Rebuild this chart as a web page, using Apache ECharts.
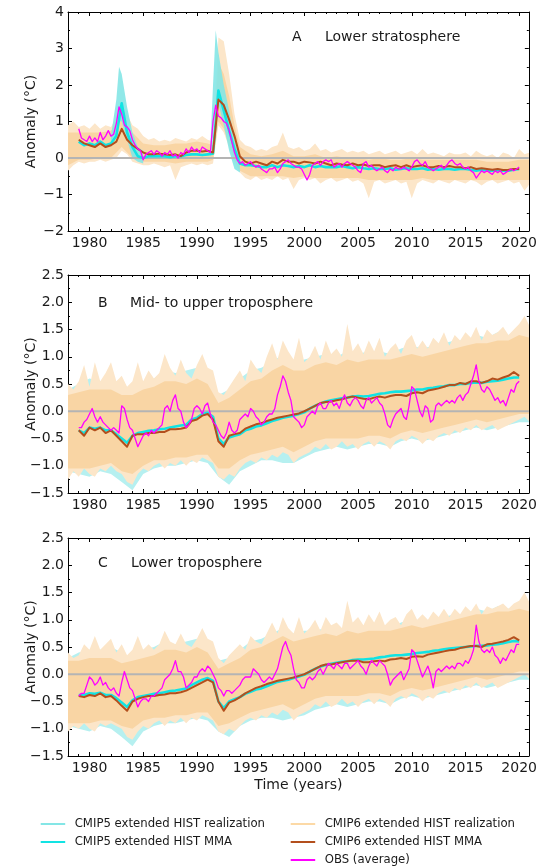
<!DOCTYPE html>
<html>
<head>
<meta charset="utf-8">
<script src="https://cdn.jsdelivr.net/npm/echarts@6/dist/echarts.min.js"></script>
<style>
  html, body { margin: 0; padding: 0; background: #fff; }
  #chart { width: 540px; height: 867px; }
</style>
</head>
<body>
<div id="chart"></div>
<script>
// ---------------------------------------------------------------
// Time sampling: quarterly observations, half-yearly model means,
// half-yearly ensemble envelopes.
// ---------------------------------------------------------------
const tQuarter = []; for (let i = 0; i <= 164; i++) tQuarter.push(1979 + i * 0.25);
const tHalf = [];    for (let i = 0; i <= 82; i++)  tHalf.push(1979 + i * 0.5);
const tBand = [];    for (let i = 0; i <= 86; i++)  tBand.push(1978 + i * 0.5);

const xTickYears = [1980, 1985, 1990, 1995, 2000, 2005, 2010, 2015, 2020];
const xMinorYears = []; for (let y = 1978; y <= 2020; y++) xMinorYears.push(y);

// ================= A: Lower stratosphere =================
// full CMIP6 realization spread (outer, spiky)
const strat_cmip6_hi = [
  0.9, 1.0,  0.85, 0.9,  0.8, 0.95,  0.8, 0.9,  0.85, 1.1,      // 1978-1982
  1.4, 1.2,  0.9, 0.8,  0.6, 0.5,  0.55, 0.45,  0.5, 0.45,      // 1983-1987
  0.55, 0.5,  0.45, 0.55,  0.5, 0.6,  0.5, 0.45,  3.3, 3.2,     // 1988-1992
  2.3, 1.2,  0.5, 0.35,  0.3, 0.2,  0.25, 0.2,  0.3, 0.35,      // 1993-1997
  0.7, 0.3,  0.25, 0.3,  0.2, 0.25,  0.4, 0.2,  0.25, 0.15,     // 1998-2002
  0.2, 0.25,  0.15, 0.2,  0.15, 0.2,  0.1, 0.15,  0.2, 0.1,     // 2003-2007
  0.15, 0.2,  0.1, 0.15,  0.2, 0.1,  0.25, 0.1,  0.15, 0.1,     // 2008-2012
  0.05, 0.15,  0.1, 0.1,  0.15, 0.05,  0.2, 0.1,  0.05, 0.1,    // 2013-2017
  0.0, 0.15,  0.1, 0.0,  0.25, 0.1,  0.15                       // 2018-2021
];
const strat_cmip6_lo = [
  -0.35, -0.2,  -0.1, -0.15,  -0.1, -0.1,  -0.05, -0.1,  -0.05, 0.0,
  0.2, 0.1,  -0.1, -0.15,  -0.2, -0.2,  -0.15, -0.2,  -0.25, -0.2,
  -0.6, -0.25,  -0.2, -0.15,  -0.2, -0.15,  -0.2, -0.15,  0.9, 0.7,
  0.3, -0.1,  -0.4, -0.55,  -0.6, -0.5,  -0.6, -0.55,  -0.6, -0.5,
  -0.6, -0.55,  -0.85, -0.6,  -0.55, -0.6,  -0.55, -0.7,  -0.6, -0.55,
  -0.65, -0.6,  -0.55, -0.65,  -0.6, -0.7,  -1.1, -0.65,  -0.6, -0.7,
  -0.65, -0.6,  -0.7, -0.65,  -1.1, -0.7,  -0.6, -0.65,  -0.7, -0.6,
  -0.65, -0.7,  -0.6, -0.65,  -0.7, -0.6,  -0.65, -0.75,  -0.65, -0.6,
  -0.7, -0.65,  -0.6, -0.7,  -0.65, -0.9,  -0.7
];
// dense core of the CMIP6 realizations: [year, low, high]
const strat_cmip6_core = [
  [1978, -0.20, 0.70], [1979, -0.05, 0.70], [1980, -0.05, 0.70], [1981, 0.00, 0.70],
  [1982, 0.00, 0.75], [1983, 0.30, 1.10], [1984, 0.00, 0.70], [1985, -0.10, 0.40],
  [1986, -0.10, 0.35], [1987, -0.10, 0.35], [1988, -0.15, 0.40], [1989, -0.10, 0.40],
  [1990, -0.10, 0.45], [1991, -0.10, 0.40], [1991.5, -0.05, 0.35], [1992, 1.00, 2.60],
  [1992.5, 0.80, 2.30], [1993, 0.35, 1.70], [1993.5, -0.05, 0.90], [1994, -0.35, 0.30],
  [1995, -0.50, 0.10], [1996, -0.50, 0.05], [1997, -0.50, 0.10], [1998, -0.50, 0.20],
  [1999, -0.55, 0.05], [2000, -0.50, 0.05], [2001, -0.55, 0.10], [2002, -0.55, 0.00],
  [2003, -0.55, 0.05], [2004, -0.55, 0.00], [2005, -0.55, 0.00], [2006, -0.60, -0.05],
  [2007, -0.60, 0.00], [2008, -0.60, -0.05], [2009, -0.60, -0.05], [2010, -0.60, 0.00],
  [2011, -0.55, -0.05], [2012, -0.60, -0.05], [2013, -0.60, -0.05], [2014, -0.60, -0.05],
  [2015, -0.60, -0.05], [2016, -0.60, -0.05], [2017, -0.60, -0.10], [2018, -0.60, -0.10],
  [2019, -0.60, -0.10], [2020, -0.60, -0.05], [2021, -0.60, -0.05]
];
// CMIP5 realization spread around the two volcanic warm peaks: [year, low, high]
const strat_cmip5_band1 = [
  [1982.0, 0.3, 0.6], [1982.5, 0.6, 1.6], [1982.75, 1.0, 2.5], [1983.0, 1.0, 2.3],
  [1983.5, 0.5, 1.4], [1984.0, 0.0, 0.7], [1984.5, -0.1, 0.3], [1985.0, -0.15, 0.2]
];
const strat_cmip5_band2 = [
  [1991.25, 0.0, 0.3], [1991.5, 0.6, 2.0], [1991.75, 1.5, 3.5], [1992.0, 1.5, 2.9],
  [1992.5, 0.9, 2.0], [1993.0, 0.2, 1.3], [1993.5, -0.3, 0.5], [1994.0, -0.4, 0.0]
];
const strat_cmip5_mma = [
  0.45, 0.35,  0.40, 0.35,  0.45, 0.35,  0.40, 0.60,  1.50, 0.70,   // 1979-1983
  0.30, 0.05,  0.00, 0.05,  0.05, 0.05,  0.05, 0.02,  0.05, 0.05,   // 1984-1988
  0.08, 0.10,  0.10, 0.08,  0.10, 0.12,  1.85, 1.30,  0.75, 0.25,   // 1989-1993
  -0.15, -0.20,  -0.20, -0.22,  -0.25, -0.25,  -0.20, -0.25,  -0.20, -0.22,
  -0.25, -0.22,  -0.25, -0.20,  -0.25, -0.22,  -0.25, -0.25,  -0.25, -0.22,
  -0.25, -0.28,  -0.25, -0.28,  -0.30, -0.28,  -0.30, -0.30,  -0.28, -0.32,
  -0.30, -0.28,  -0.30, -0.30,  -0.28, -0.32,  -0.30, -0.32,  -0.30, -0.30,
  -0.32, -0.30,  -0.30, -0.32,  -0.35, -0.32,  -0.35, -0.35,  -0.33, -0.35,
  -0.35, -0.32,  -0.30
];
const strat_cmip6_mma = [
  0.50, 0.40,  0.35, 0.30,  0.40, 0.30,  0.35, 0.45,  0.80, 0.50,
  0.35, 0.25,  0.15, 0.10,  0.10, 0.12,  0.10, 0.08,  0.10, 0.05,
  0.15, 0.20,  0.20, 0.18,  0.20, 0.15,  1.60, 1.45,  1.05, 0.60,
  0.05, -0.10,  -0.15, -0.10,  -0.15, -0.20,  -0.10, -0.15,  -0.05, -0.10,
  -0.10, -0.15,  -0.10, -0.12,  -0.15, -0.10,  -0.15, -0.20,  -0.15, -0.18,
  -0.20, -0.15,  -0.20, -0.18,  -0.22, -0.20,  -0.20, -0.25,  -0.22, -0.20,
  -0.25, -0.20,  -0.25, -0.22,  -0.20, -0.25,  -0.25, -0.22,  -0.25, -0.22,
  -0.25, -0.25,  -0.28, -0.25,  -0.30, -0.28,  -0.30, -0.32,  -0.30, -0.33,
  -0.32, -0.30,  -0.30
];
const strat_obs = [
  0.80, 0.55, 0.50, 0.45,   0.60, 0.45, 0.55, 0.45,   0.70, 0.50, 0.60, 0.75,   // 1979-1981
  0.60, 0.65, 0.95, 1.40,   1.20, 0.90, 0.85, 0.75,   0.50, 0.35, 0.25, 0.20,   // 1982-1984
  -0.05, 0.10, 0.15, 0.20,  0.10, 0.20, 0.15, 0.05,   0.15, 0.10, 0.20, 0.05,   // 1985-1987
  0.10, 0.00, 0.15, 0.10,   0.25, 0.15, 0.30, 0.20,   0.25, 0.15, 0.30, 0.25,   // 1988-1990
  0.20, 0.15, 1.00, 1.45,   1.15, 1.10, 1.00, 0.95,   0.75, 0.45, 0.15, -0.05,  // 1991-1993
  -0.15, -0.10, -0.20, -0.15,  -0.10, -0.20, -0.25, -0.20,  -0.30, -0.35, -0.40, -0.30,
  -0.30, -0.25, -0.40, -0.30,  -0.15, -0.10, -0.05, -0.15,  -0.20, -0.25, -0.25, -0.30,
  -0.45, -0.60, -0.45, -0.20,  -0.15, -0.10, -0.20, -0.10,  -0.05, -0.10, -0.05, -0.25,
  -0.20, -0.15, -0.25, -0.15,  -0.10, -0.15, -0.20, -0.25,  -0.35, -0.40, -0.15, -0.10,
  -0.25, -0.20, -0.30, -0.35,  -0.30, -0.25, -0.35, -0.40,  -0.30, -0.35, -0.25, -0.30,
  -0.30, -0.25, -0.30, -0.35,  -0.25, -0.10, -0.05, -0.15,  -0.20, -0.10, -0.25, -0.30,
  -0.35, -0.30, -0.25, -0.20,  -0.30, -0.20, -0.10, -0.05,  -0.15, -0.20, -0.15, -0.25,
  -0.30, -0.25, -0.35, -0.40,  -0.55, -0.45, -0.35, -0.40,  -0.35, -0.40, -0.45, -0.35,
  -0.40, -0.35, -0.45, -0.40,  -0.35, -0.30, -0.35, -0.30,
  -0.25
];

// ================= B: Mid- to upper troposphere =================
const tmt_cmip6_hi = [
  0.50, 0.40,  0.55, 0.85,  0.45, 0.90,  0.55, 0.70,  0.90, 0.55,   // 1978-1982
  0.65, 0.45,  0.55, 0.90,  0.55, 0.75,  0.60, 0.70,  1.05, 0.80,   // 1983-1987
  0.65, 0.95,  0.70, 0.60,  0.85, 1.05,  0.80, 0.75,  0.35, 0.30,   // 1988-1992
  0.45, 0.60,  0.75, 0.55,  0.95, 0.80,  0.70, 1.00,  1.25, 0.95,   // 1993-1997
  1.30, 1.10,  0.95, 1.35,  0.90, 1.00,  1.20, 0.95,  1.30, 1.05,   // 1998-2002
  1.15, 1.00,  1.60, 1.10,  1.25, 1.05,  1.30, 1.10,  1.35, 1.00,   // 2003-2007
  1.15, 1.25,  1.05, 1.30,  1.40, 1.15,  1.30, 1.15,  1.35, 1.25,   // 2008-2012
  1.45, 1.20,  1.40, 1.30,  1.45, 1.35,  1.55, 1.30,  1.50, 1.40,   // 2013-2017
  1.45, 1.55,  1.40, 1.50,  1.60, 1.75,  1.55                       // 2018-2021
];
const tmt_cmip6_lo = [
  -1.25, -1.10,  -1.20, -1.05,  -1.15, -1.20,  -1.05, -1.10,  -1.00, -1.10,
  -1.15, -1.30,  -1.35, -1.15,  -1.05, -1.10,  -1.00, -0.95,  -1.05, -0.95,
  -1.00, -0.90,  -1.00, -0.90,  -0.95, -0.85,  -0.90, -0.95,  -1.20, -1.25,
  -1.15, -1.20,  -1.05, -0.95,  -0.90, -0.95,  -0.85, -0.90,  -0.80, -0.85,
  -0.75, -0.80,  -0.95, -0.85,  -0.80, -0.75,  -0.65, -0.70,  -0.60, -0.70,
  -0.65, -0.55,  -0.65, -0.60,  -0.70, -0.60,  -0.55, -0.65,  -0.55, -0.60,
  -0.70, -0.55,  -0.50, -0.55,  -0.45, -0.50,  -0.60, -0.50,  -0.55, -0.45,
  -0.40, -0.45,  -0.35, -0.40,  -0.30, -0.35,  -0.25, -0.35,  -0.30, -0.25,
  -0.35, -0.30,  -0.25, -0.20,  -0.15, -0.10,  -0.20
];
const tmt_cmip6_core = [
  [1978, -1.05, 0.30], [1979, -1.05, 0.35], [1980, -1.05, 0.40], [1981, -1.00, 0.40],
  [1982, -0.95, 0.40], [1983, -1.10, 0.30], [1984, -1.15, 0.30], [1985, -1.00, 0.40],
  [1986, -0.90, 0.45], [1987, -0.90, 0.55], [1988, -0.85, 0.55], [1989, -0.85, 0.50],
  [1990, -0.80, 0.60], [1991, -0.80, 0.50], [1992, -1.05, 0.15], [1993, -1.05, 0.25],
  [1994, -0.90, 0.40], [1995, -0.80, 0.55], [1996, -0.75, 0.60], [1997, -0.70, 0.75],
  [1998, -0.65, 0.85], [1999, -0.75, 0.75], [2000, -0.65, 0.75], [2001, -0.55, 0.85],
  [2002, -0.50, 0.90], [2003, -0.50, 0.85], [2004, -0.50, 0.95], [2005, -0.50, 0.90],
  [2006, -0.45, 0.95], [2007, -0.45, 0.95], [2008, -0.50, 0.95], [2009, -0.40, 1.00],
  [2010, -0.35, 1.05], [2011, -0.40, 1.00], [2012, -0.35, 1.05], [2013, -0.30, 1.10],
  [2014, -0.25, 1.15], [2015, -0.20, 1.20], [2016, -0.15, 1.25], [2017, -0.20, 1.25],
  [2018, -0.15, 1.30], [2019, -0.10, 1.30], [2020, -0.05, 1.40], [2021, -0.05, 1.35]
];
const tmt_cmip5_band = [
  [1978, -1.10, 0.40], [1979, -1.15, 0.50], [1980, -1.20, 0.60], [1981, -1.10, 0.55],
  [1982, -1.15, 0.60], [1983, -1.30, 0.50], [1984, -1.45, 0.40], [1985, -1.15, 0.55],
  [1986, -1.05, 0.60], [1987, -1.00, 0.75], [1988, -1.00, 0.70], [1989, -0.95, 0.75],
  [1990, -0.90, 0.80], [1991, -0.95, 0.70], [1992, -1.20, 0.30], [1993, -1.35, 0.40],
  [1994, -1.10, 0.60], [1995, -1.00, 0.75], [1996, -0.90, 0.80], [1997, -0.90, 0.90],
  [1998, -0.95, 1.05], [1999, -0.95, 0.90], [2000, -0.85, 0.95], [2001, -0.75, 1.00],
  [2002, -0.70, 1.05], [2003, -0.65, 1.00], [2004, -0.70, 1.10], [2005, -0.65, 1.05],
  [2006, -0.60, 1.10], [2007, -0.60, 1.10], [2008, -0.65, 1.05], [2009, -0.55, 1.15],
  [2010, -0.50, 1.20], [2011, -0.55, 1.15], [2012, -0.50, 1.20], [2013, -0.45, 1.25],
  [2014, -0.40, 1.30], [2015, -0.35, 1.30], [2016, -0.30, 1.40], [2017, -0.35, 1.35],
  [2018, -0.30, 1.45], [2019, -0.25, 1.40], [2020, -0.20, 1.50], [2021, -0.20, 1.45]
];
const tmt_cmip5_mma = [
  -0.35, -0.40,  -0.30, -0.32,  -0.30, -0.35,  -0.35, -0.42,  -0.50, -0.58,
  -0.45, -0.40,  -0.38, -0.36,  -0.35, -0.33,  -0.32, -0.30,  -0.28, -0.26,
  -0.25, -0.15,  -0.12, -0.05,  -0.03, -0.10,  -0.50, -0.60,  -0.48, -0.45,
  -0.42, -0.35,  -0.32, -0.28,  -0.26, -0.22,  -0.18, -0.15,  -0.12, -0.10,
  -0.08, -0.05,  -0.02, 0.05,  0.10, 0.14,  0.18, 0.20,  0.22, 0.24,
  0.25, 0.27,  0.28, 0.27,  0.28, 0.30,  0.32, 0.33,  0.35, 0.36,
  0.36, 0.37,  0.38, 0.40,  0.40, 0.42,  0.43, 0.45,  0.46, 0.48,
  0.48, 0.50,  0.50, 0.52,  0.53, 0.52,  0.54, 0.55,  0.56, 0.58,
  0.60, 0.62,  0.62
];
const tmt_cmip6_mma = [
  -0.35, -0.45,  -0.30, -0.35,  -0.30, -0.40,  -0.35, -0.45,  -0.55, -0.65,
  -0.45, -0.42,  -0.42, -0.40,  -0.40, -0.38,  -0.38, -0.33,  -0.33, -0.32,
  -0.30, -0.18,  -0.15, -0.08,  -0.05, -0.15,  -0.55, -0.65,  -0.45, -0.42,
  -0.40, -0.32,  -0.28, -0.24,  -0.22, -0.18,  -0.15, -0.12,  -0.10, -0.08,
  -0.06, -0.04,  0.00, 0.05,  0.10, 0.15,  0.17, 0.18,  0.20, 0.22,
  0.25, 0.27,  0.25, 0.23,  0.22, 0.25,  0.27, 0.25,  0.28, 0.30,
  0.30, 0.28,  0.33, 0.35,  0.33, 0.38,  0.40, 0.42,  0.45, 0.48,
  0.48, 0.52,  0.50, 0.55,  0.55, 0.52,  0.55, 0.60,  0.58, 0.62,
  0.65, 0.72,  0.65
];
const tmt_obs = [
  -0.30, -0.30, -0.20, -0.15,  -0.05, 0.05, -0.10, -0.20,  -0.10, -0.20, -0.25, -0.30,  // 1979-1981
  -0.35, -0.30, -0.35, -0.40,  0.10, 0.05, -0.15, -0.30,   -0.35, -0.50, -0.65, -0.55,  // 1982-1984
  -0.45, -0.40, -0.45, -0.35,  -0.40, -0.35, -0.30, -0.25,  0.05, 0.10, 0.00, 0.20,    // 1985-1987
  0.30, 0.05, 0.00, -0.20,     -0.30, -0.25, -0.15, 0.05,   0.10, 0.05, -0.05, 0.10,   // 1988-1990
  0.15, -0.05, -0.20, -0.25,   -0.35, -0.45, -0.50, -0.40,  -0.20, -0.35, -0.40, -0.35, // 1991-1993
  -0.15, -0.10, -0.05, -0.10,  0.05, 0.00, -0.10, -0.15,   -0.25, -0.20, -0.10, -0.05, // 1994-1996
  -0.05, 0.05, 0.30, 0.45,     0.65, 0.55, 0.35, 0.20,     -0.10, -0.15, -0.20, -0.30, // 1997-1999
  -0.25, -0.10, -0.05, 0.00,   -0.05, 0.10, 0.15, 0.05,    0.05, 0.15, 0.20, 0.10,     // 2000-2002
  0.15, 0.05, 0.20, 0.30,      0.15, 0.10, 0.20, 0.25,     0.20, 0.10, 0.05, 0.20,     // 2003-2005
  0.25, 0.15, 0.20, 0.25,      0.15, 0.10, -0.05, -0.25,   -0.30, -0.15, -0.05, 0.00,  // 2006-2008
  0.05, -0.10, -0.15, 0.10,    0.45, 0.40, 0.20, 0.00,     -0.10, 0.10, 0.05, -0.20,   // 2009-2011
  -0.15, 0.10, 0.15, 0.10,     0.15, 0.20, 0.15, 0.20,     0.15, 0.25, 0.30, 0.20,     // 2012-2014
  0.30, 0.35, 0.50, 0.65,      0.85, 0.55, 0.40, 0.35,     0.45, 0.40, 0.30, 0.20,     // 2015-2017
  0.25, 0.15, 0.20, 0.10,      0.25, 0.40, 0.35, 0.50,                                 // 2018-2019
  0.55
];

// ================= C: Lower troposphere =================
const tlt_cmip6_hi = [
  0.40, 0.30,  0.35, 0.55,  0.45, 0.70,  0.45, 0.55,  0.65, 0.40,
  0.55, 0.35,  0.45, 0.70,  0.45, 0.55,  0.45, 0.55,  0.80, 0.60,
  0.55, 0.75,  0.55, 0.50,  0.65, 0.85,  0.65, 0.60,  0.30, 0.20,
  0.35, 0.45,  0.55, 0.45,  0.70, 0.60,  0.55, 0.75,  0.95, 0.75,
  1.05, 0.85,  0.75, 1.05,  0.75, 0.85,  1.00, 0.80,  1.05, 0.90,
  0.95, 0.85,  1.35, 0.95,  1.05, 0.90,  1.10, 0.95,  1.15, 0.90,
  1.00, 1.05,  0.90, 1.10,  1.20, 1.00,  1.10, 1.00,  1.15, 1.05,
  1.20, 1.05,  1.20, 1.10,  1.25, 1.15,  1.30, 1.10,  1.25, 1.20,
  1.25, 1.30,  1.20, 1.30,  1.35, 1.50,  1.30
];
const tlt_cmip6_lo = [
  -1.05, -0.95,  -1.00, -0.90,  -1.00, -1.05,  -0.90, -0.95,  -0.90, -0.95,
  -1.00, -1.15,  -1.20, -1.05,  -0.95, -1.00,  -0.90, -0.85,  -0.95, -0.85,
  -0.90, -0.80,  -0.90, -0.80,  -0.85, -0.75,  -0.80, -0.85,  -1.05, -1.10,
  -1.00, -1.05,  -0.95, -0.85,  -0.80, -0.85,  -0.75, -0.80,  -0.70, -0.75,
  -0.65, -0.70,  -0.85, -0.75,  -0.70, -0.65,  -0.55, -0.60,  -0.50, -0.60,
  -0.55, -0.45,  -0.55, -0.50,  -0.60, -0.50,  -0.45, -0.55,  -0.45, -0.50,
  -0.60, -0.45,  -0.40, -0.45,  -0.35, -0.40,  -0.50, -0.40,  -0.45, -0.35,
  -0.30, -0.35,  -0.25, -0.30,  -0.20, -0.25,  -0.15, -0.25,  -0.20, -0.15,
  -0.25, -0.20,  -0.15, -0.10,  -0.05, 0.00,  -0.10
];
const tlt_cmip6_core = [
  [1978, -0.90, 0.25], [1979, -0.90, 0.25], [1980, -0.90, 0.30], [1981, -0.85, 0.30],
  [1982, -0.85, 0.30], [1983, -0.95, 0.20], [1984, -1.00, 0.25], [1985, -0.85, 0.30],
  [1986, -0.80, 0.35], [1987, -0.80, 0.45], [1988, -0.75, 0.45], [1989, -0.75, 0.40],
  [1990, -0.70, 0.50], [1991, -0.70, 0.40], [1992, -0.95, 0.10], [1993, -0.90, 0.20],
  [1994, -0.80, 0.30], [1995, -0.70, 0.45], [1996, -0.65, 0.50], [1997, -0.60, 0.60],
  [1998, -0.55, 0.70], [1999, -0.65, 0.60], [2000, -0.55, 0.65], [2001, -0.45, 0.70],
  [2002, -0.40, 0.75], [2003, -0.40, 0.70], [2004, -0.40, 0.80], [2005, -0.40, 0.75],
  [2006, -0.35, 0.80], [2007, -0.35, 0.80], [2008, -0.40, 0.80], [2009, -0.30, 0.85],
  [2010, -0.25, 0.90], [2011, -0.30, 0.85], [2012, -0.25, 0.90], [2013, -0.20, 0.95],
  [2014, -0.15, 1.00], [2015, -0.10, 1.05], [2016, -0.05, 1.10], [2017, -0.10, 1.10],
  [2018, -0.05, 1.15], [2019, 0.00, 1.15], [2020, 0.05, 1.20], [2021, 0.05, 1.15]
];
const tlt_cmip5_band = [
  [1978, -0.95, 0.30], [1979, -1.00, 0.40], [1980, -1.05, 0.45], [1981, -0.95, 0.45],
  [1982, -1.00, 0.50], [1983, -1.15, 0.40], [1984, -1.32, 0.30], [1985, -1.05, 0.45],
  [1986, -0.95, 0.50], [1987, -0.90, 0.60], [1988, -0.90, 0.55], [1989, -0.85, 0.60],
  [1990, -0.80, 0.65], [1991, -0.85, 0.55], [1992, -1.05, 0.25], [1993, -1.15, 0.30],
  [1994, -0.95, 0.45], [1995, -0.85, 0.60], [1996, -0.80, 0.65], [1997, -0.80, 0.75],
  [1998, -0.85, 0.85], [1999, -0.80, 0.75], [2000, -0.75, 0.80], [2001, -0.65, 0.80],
  [2002, -0.60, 0.85], [2003, -0.55, 0.80], [2004, -0.60, 0.90], [2005, -0.55, 0.85],
  [2006, -0.50, 0.90], [2007, -0.50, 0.90], [2008, -0.55, 0.85], [2009, -0.45, 0.95],
  [2010, -0.40, 1.00], [2011, -0.45, 0.95], [2012, -0.40, 1.00], [2013, -0.35, 1.05],
  [2014, -0.30, 1.10], [2015, -0.25, 1.10], [2016, -0.20, 1.20], [2017, -0.25, 1.15],
  [2018, -0.20, 1.25], [2019, -0.15, 1.20], [2020, -0.10, 1.30], [2021, -0.10, 1.25]
];
const tlt_cmip5_mma = [
  -0.38, -0.38,  -0.35, -0.36,  -0.34, -0.38,  -0.38, -0.44,  -0.52, -0.60,
  -0.48, -0.42,  -0.40, -0.38,  -0.36, -0.35,  -0.33, -0.31,  -0.30, -0.28,
  -0.26, -0.20,  -0.15, -0.10,  -0.07, -0.12,  -0.50, -0.62,  -0.50, -0.46,
  -0.42, -0.36,  -0.32, -0.28,  -0.26, -0.22,  -0.18, -0.14,  -0.12, -0.10,
  -0.07, -0.04,  -0.01, 0.05,  0.10, 0.14,  0.17, 0.19,  0.21, 0.23,
  0.24, 0.26,  0.27, 0.27,  0.28, 0.29,  0.31, 0.32,  0.34, 0.35,
  0.35, 0.36,  0.37, 0.39,  0.40, 0.41,  0.43, 0.44,  0.46, 0.47,
  0.48, 0.49,  0.50, 0.51,  0.52, 0.52,  0.53, 0.54,  0.55, 0.57,
  0.59, 0.61,  0.60
];
const tlt_cmip6_mma = [
  -0.40, -0.42,  -0.38, -0.40,  -0.35, -0.42,  -0.40, -0.48,  -0.58, -0.67,
  -0.50, -0.45,  -0.42, -0.40,  -0.40, -0.38,  -0.37, -0.35,  -0.35, -0.33,
  -0.30, -0.25,  -0.20, -0.15,  -0.10, -0.15,  -0.50, -0.67,  -0.52, -0.48,
  -0.42, -0.35,  -0.30, -0.25,  -0.22, -0.18,  -0.15, -0.12,  -0.10, -0.08,
  -0.06, -0.03,  0.00, 0.05,  0.10, 0.15,  0.18, 0.18,  0.20, 0.22,
  0.24, 0.25,  0.25, 0.22,  0.22, 0.24,  0.25, 0.24,  0.27, 0.28,
  0.30, 0.28,  0.32, 0.33,  0.32, 0.36,  0.38, 0.40,  0.42, 0.44,
  0.45, 0.48,  0.50, 0.52,  0.52, 0.50,  0.55, 0.56,  0.58, 0.60,
  0.63, 0.68,  0.62
];
const tlt_obs = [
  -0.40, -0.35, -0.35, -0.20,  -0.05, -0.10, -0.20, -0.15,  -0.05, -0.20, -0.15, -0.25,  // 1979-1981
  -0.30, -0.25, -0.35, -0.40,  -0.15, 0.05, -0.10, -0.25,   -0.30, -0.45, -0.60, -0.50,  // 1982-1984
  -0.45, -0.45, -0.50, -0.40,  -0.40, -0.35, -0.30, -0.25,  -0.10, -0.05, 0.00, 0.10,   // 1985-1987
  0.25, 0.05, 0.05, -0.05,     -0.25, -0.20, -0.15, -0.05,  -0.05, 0.05, 0.10, 0.05,    // 1988-1990
  0.15, 0.10, 0.00, -0.10,     -0.25, -0.30, -0.40, -0.30,  -0.30, -0.35, -0.30, -0.25, // 1991-1993
  -0.20, -0.10, -0.05, -0.05,  -0.05, 0.10, 0.05, 0.00,     -0.10, -0.15, -0.10, -0.05, // 1994-1996
  -0.10, 0.00, 0.10, 0.30,     0.50, 0.60, 0.45, 0.35,      0.10, -0.10, -0.15, -0.25,  // 1997-1999
  -0.25, -0.10, -0.05, -0.10,  -0.05, 0.05, 0.10, 0.00,     0.10, 0.20, 0.15, 0.10,     // 2000-2002
  0.20, 0.15, 0.10, 0.20,      0.20, 0.10, 0.15, 0.20,      0.25, 0.15, 0.10, 0.00,     // 2003-2005
  0.15, 0.25, 0.20, 0.15,      0.25, 0.20, 0.15, 0.00,      -0.20, -0.10, -0.05, 0.00,  // 2006-2008
  0.05, -0.10, 0.00, 0.10,     0.45, 0.40, 0.25, 0.10,      -0.05, 0.05, 0.15, 0.00,    // 2009-2011
  -0.25, 0.05, 0.10, 0.05,     0.10, 0.15, 0.10, 0.15,      0.10, 0.20, 0.20, 0.15,     // 2012-2014
  0.25, 0.20, 0.30, 0.45,      0.90, 0.60, 0.45, 0.40,      0.45, 0.40, 0.50, 0.35,     // 2015-2017
  0.30, 0.20, 0.30, 0.25,      0.35, 0.45, 0.40, 0.55,                                  // 2018-2019
  0.55
];

// ---------------------------------------------------------------
const FONT = 'DejaVu Sans';
const C = {
  cmip5Real: '#84e6e6',
  cmip5Faint: '#b6f0f0',
  cmip5Mma:  '#12e3e3',
  cmip6Outer: '#fce6c9',
  cmip6Core: '#f9d5a4',
  cmip6Legend: '#fcd9a6',
  cmip6Mma:  '#b34f1d',
  obs:       '#ff00ff',
  zero:      '#b4b4b4',
  axis:      '#000000',
  text:      '#1a1a1a'
};

const panels = [
  {
    top: 12, height: 219, min: -2, max: 4, step: 1, dec: 0,
    letter: 'A', title: 'Lower stratosphere', letterX: 292, titleX: 325, titleY: 37,
    cmip6Band: tBand.map((t, i) => [t, strat_cmip6_lo[i], strat_cmip6_hi[i]]),
    cmip6Core: strat_cmip6_core,
    cmip5Bands: [strat_cmip5_band1, strat_cmip5_band2], cmip5OnTop: true,
    cmip5Mma: strat_cmip5_mma, cmip6Mma: strat_cmip6_mma, obs: strat_obs
  },
  {
    top: 275, height: 218, min: -1.5, max: 2.5, step: 0.5, dec: 1,
    letter: 'B', title: 'Mid- to upper troposphere', letterX: 98, titleX: 130, titleY: 303,
    cmip6Band: tBand.map((t, i) => [t, tmt_cmip6_lo[i], tmt_cmip6_hi[i]]),
    cmip6Core: tmt_cmip6_core,
    cmip5Bands: [tmt_cmip5_band], cmip5OnTop: false,
    cmip5Mma: tmt_cmip5_mma, cmip6Mma: tmt_cmip6_mma, obs: tmt_obs
  },
  {
    top: 538, height: 218, min: -1.5, max: 2.5, step: 0.5, dec: 1,
    letter: 'C', title: 'Lower troposphere', letterX: 98, titleX: 131, titleY: 563,
    cmip6Band: tBand.map((t, i) => [t, tlt_cmip6_lo[i], tlt_cmip6_hi[i]]),
    cmip6Core: tlt_cmip6_core,
    cmip5Bands: [tlt_cmip5_band], cmip5OnTop: false,
    cmip5Mma: tlt_cmip5_mma, cmip6Mma: tlt_cmip6_mma, obs: tlt_obs, xName: 'Time (years)'
  }
];

const X_MIN = 1978, X_MAX = 2020.9;
const zip = (t, v) => t.map((x, i) => [x, v[i]]);
const fmtNum = (v, d) => (v < 0 ? '\u2212' : '') + Math.abs(v).toFixed(d);

// Filled envelope between low and high rows [year, low, high]
function envelope(name, p, rows, color, opacity, z) {
  return {
    type: 'custom', name, xAxisIndex: 4 * p, yAxisIndex: 2 * p,
    clip: true, silent: true, z, animation: false,
    itemStyle: { color },
    data: [[rows[0][0], rows[0][1]]],
    renderItem: (params, api) => {
      const pts = [];
      for (let i = 0; i < rows.length; i++) pts.push(api.coord([rows[i][0], rows[i][2]]));
      for (let i = rows.length - 1; i >= 0; i--) pts.push(api.coord([rows[i][0], rows[i][1]]));
      return { type: 'polygon', shape: { points: pts }, style: { fill: color, opacity } };
    }
  };
}

function lineSeries(name, p, data, color, width, z) {
  return {
    type: 'line', name, xAxisIndex: 4 * p, yAxisIndex: 2 * p,
    data, showSymbol: false, symbol: 'none', clip: true, silent: true, z,
    lineStyle: { color, width, join: 'round' }, itemStyle: { color }, animation: false
  };
}

const grids = [], xAxes = [], yAxes = [], series = [], graphics = [];

panels.forEach((P, p) => {
  grids.push({ left: 68, right: 8, top: P.top, height: P.height });

  const tickBase = { inside: true, lineStyle: { color: C.axis, width: 1 } };
  const lineBase = { show: true, onZero: false, lineStyle: { color: C.axis, width: 1 } };
  const noLine = { show: false, onZero: false };

  // bottom major (labelled)
  xAxes.push({
    type: 'value', gridIndex: p, position: 'bottom', min: X_MIN, max: X_MAX,
    axisLine: lineBase,
    axisTick: Object.assign({ length: 4, customValues: xTickYears }, tickBase),
    axisLabel: {
      customValues: xTickYears, fontFamily: FONT, fontSize: 14, color: C.text, margin: 5,
      formatter: v => String(Math.round(v))
    },
    splitLine: { show: false },
    name: P.xName || '', nameLocation: 'middle', nameGap: 22, nameMoveOverlap: false,
    nameTextStyle: { fontFamily: FONT, fontSize: 14, color: C.text }
  });
  // bottom minor
  xAxes.push({
    type: 'value', gridIndex: p, position: 'bottom', min: X_MIN, max: X_MAX,
    axisLine: noLine,
    axisTick: Object.assign({ length: 2, customValues: xMinorYears }, tickBase),
    axisLabel: { show: false }, splitLine: { show: false }
  });
  // top major
  xAxes.push({
    type: 'value', gridIndex: p, position: 'top', min: X_MIN, max: X_MAX,
    axisLine: lineBase,
    axisTick: Object.assign({ length: 4, customValues: xTickYears }, tickBase),
    axisLabel: { show: false }, splitLine: { show: false }
  });
  // top minor
  xAxes.push({
    type: 'value', gridIndex: p, position: 'top', min: X_MIN, max: X_MAX,
    axisLine: noLine,
    axisTick: Object.assign({ length: 2, customValues: xMinorYears }, tickBase),
    axisLabel: { show: false }, splitLine: { show: false }
  });

  const yBase = {
    type: 'value', gridIndex: p, min: P.min, max: P.max, interval: P.step,
    axisLine: lineBase,
    axisTick: Object.assign({ length: 4 }, tickBase),
    minorTick: { show: true, splitNumber: 2, length: 2, lineStyle: { color: C.axis, width: 1 } },
    splitLine: { show: false }
  };
  yAxes.push(Object.assign({}, yBase, {
    position: 'left',
    axisLabel: {
      fontFamily: FONT, fontSize: 14, color: C.text, margin: 4,
      formatter: v => fmtNum(v, P.dec)
    },
    name: 'Anomaly (\u00B0C)', nameLocation: 'middle', nameGap: 30, nameMoveOverlap: false,
    nameTextStyle: { fontFamily: FONT, fontSize: 14, color: C.text }
  }));
  yAxes.push(Object.assign({}, yBase, { position: 'right', axisLabel: { show: false } }));

  // ensemble envelopes
  P.cmip5Bands.forEach(rows => {
    if (P.cmip5OnTop) {
      series.push(envelope('CMIP5 extended HIST realization', p, rows, C.cmip5Real, 0.9, 3));
    } else {
      series.push(envelope('CMIP5 extended HIST realization', p, rows, C.cmip5Faint, 1, 1));
    }
  });
  series.push(envelope('CMIP6 extended HIST realization', p, P.cmip6Band, C.cmip6Outer, 1, 2));
  series.push(envelope('CMIP6 extended HIST realization', p, P.cmip6Core, C.cmip6Core, 1, 2));
  // zero reference
  series.push(lineSeries('zero', p, [[X_MIN, 0], [X_MAX, 0]], C.zero, 1.8, 4));
  // multi-model means and observations
  series.push(lineSeries('CMIP5 extended HIST MMA', p, zip(tHalf, P.cmip5Mma), C.cmip5Mma, 2.6, 5));
  series.push(lineSeries('CMIP6 extended HIST MMA', p, zip(tHalf, P.cmip6Mma), C.cmip6Mma, 2, 6));
  series.push(lineSeries('OBS (average)', p, zip(tQuarter, P.obs), C.obs, 1.3, 7));

  // panel heading
  const ts = { fontFamily: FONT, fontSize: 14, fill: C.text, verticalAlign: 'middle' };
  graphics.push({ type: 'text', x: P.letterX, y: P.titleY, style: Object.assign({ text: P.letter }, ts) });
  graphics.push({ type: 'text', x: P.titleX, y: P.titleY, style: Object.assign({ text: P.title }, ts) });
});

// legend
const legendRows = [
  { x: 40.7, y: 824, color: C.cmip5Real,   text: 'CMIP5 extended HIST realization' },
  { x: 40.7, y: 842, color: C.cmip5Mma,    text: 'CMIP5 extended HIST MMA' },
  { x: 290.7, y: 824, color: C.cmip6Legend, text: 'CMIP6 extended HIST realization' },
  { x: 290.7, y: 842, color: C.cmip6Mma,   text: 'CMIP6 extended HIST MMA' },
  { x: 290.7, y: 860, color: C.obs,        text: 'OBS (average)' }
];
legendRows.forEach(r => {
  graphics.push({
    type: 'line', shape: { x1: r.x, y1: r.y, x2: r.x + 24.5, y2: r.y },
    style: { stroke: r.color, lineWidth: 2 }
  });
  graphics.push({
    type: 'text', x: r.x + 34, y: r.y,
    style: { text: r.text, fontFamily: FONT, fontSize: 11.7, fill: C.text, verticalAlign: 'middle', align: 'left' }
  });
});

const chart = echarts.init(document.getElementById('chart'), null, { renderer: 'canvas' });
chart.setOption({
  animation: false,
  backgroundColor: '#ffffff',
  grid: grids,
  xAxis: xAxes,
  yAxis: yAxes,
  series,
  graphic: graphics
});
</script>
</body>
</html>
